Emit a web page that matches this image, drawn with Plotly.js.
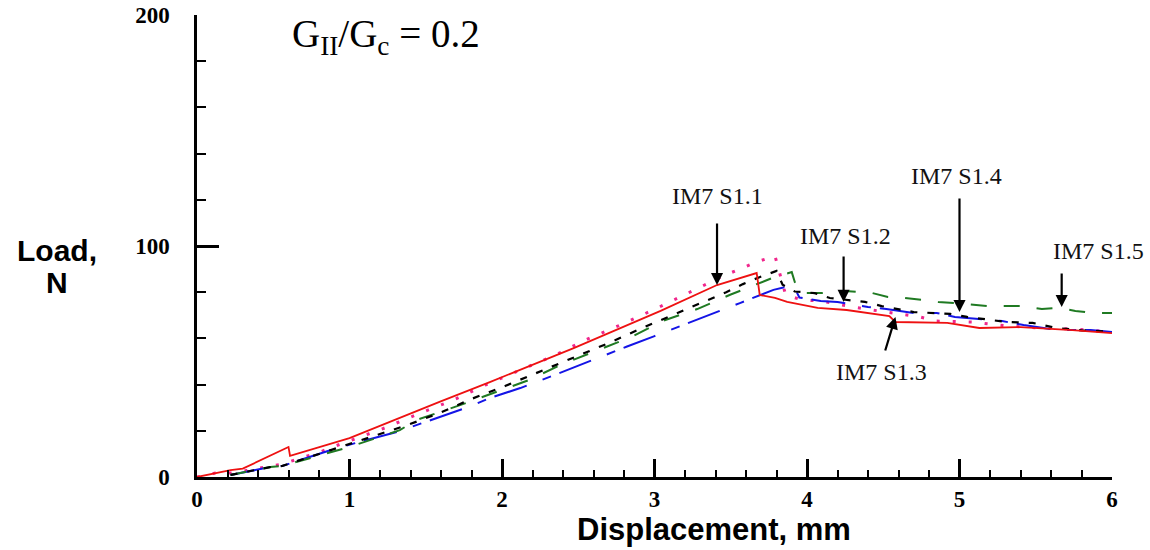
<!DOCTYPE html>
<html>
<head>
<meta charset="utf-8">
<script src="https://cdn.plot.ly/plotly-3.0.1.min.js"></script>
<style>html,body{margin:0;padding:0;background:#fff;}#chart{width:1150px;height:550px;}</style>
</head>
<body>
<div id="chart"></div>
<script>
// ---- data (displacement mm, load N) ----
const redX = [0, 0.22, 0.30, 0.60, 0.61, 1.00, 1.59, 1.92, 2.47, 3.04, 3.41, 3.67, 3.69, 3.79, 3.87, 3.97, 4.07, 4.26, 4.54, 4.58, 4.92, 5.13, 5.40, 5.74, 6.00];
const redY = [0, 3.0, 3.6, 13.0, 9.2, 16.8, 32.5, 41.1, 55.8, 71.9, 83.1, 88.3, 78.8, 77.5, 75.8, 74.5, 73.2, 72.3, 69.7, 67.1, 66.7, 64.5, 64.9, 63.6, 62.3];

const pinkX = [0, 0.12, 0.23, 0.56, 0.68, 0.79, 0.89, 1.01, 1.23, 1.45, 1.68, 1.89, 2.12, 2.35, 2.56, 2.79, 3.02, 3.23, 3.45, 3.67, 3.79, 3.86, 3.97, 4.09, 4.30, 4.52, 4.74, 4.85, 5.08, 5.31, 5.53, 5.74, 5.99];
const pinkY = [0, 1.7, 1.7, 5.6, 8.2, 10.4, 13.0, 16.0, 21.2, 27.3, 33.3, 39.8, 46.3, 52.8, 59.7, 66.2, 73.2, 80.1, 87.0, 93.1, 95.7, 78.8, 76.6, 76.2, 73.6, 71.4, 69.3, 67.5, 67.1, 65.4, 64.5, 64.1, 62.8];

const blackX = [0.22, 0.48, 0.56, 0.92, 1.38, 1.59, 1.80, 2.02, 2.24, 2.47, 2.70, 2.92, 3.13, 3.25, 3.36, 3.47, 3.58, 3.68, 3.80, 3.84, 3.92, 4.05, 4.15, 4.38, 4.49, 4.70, 4.94, 5.05, 5.31, 5.48, 5.64, 5.80, 6.00];
const blackY = [0.9, 4.3, 4.8, 12.6, 22.5, 27.7, 33.8, 39.4, 45.5, 51.9, 58.0, 64.5, 70.5, 74.0, 77.0, 80.0, 83.5, 86.3, 89.2, 83.2, 80.3, 79.6, 77.5, 75.8, 74.0, 71.4, 70.6, 69.3, 67.1, 66.7, 64.5, 63.5, 62.8];

const greenX = [0.22, 0.48, 0.56, 1.00, 1.33, 1.44, 1.72, 1.95, 2.17, 2.39, 2.62, 2.84, 3.06, 3.28, 3.50, 3.73, 3.79, 3.90, 3.92, 3.97, 4.09, 4.25, 4.43, 4.53, 4.64, 4.76, 4.86, 4.98, 5.09, 5.19, 5.42, 5.54, 5.65, 5.76, 5.87, 6.00];
const greenY = [0.9, 4.3, 4.8, 13.0, 20.3, 24.7, 31.0, 36.6, 41.8, 48.7, 54.8, 60.4, 67.7, 72.7, 79.0, 85.3, 86.6, 88.7, 84.4, 79.6, 79.6, 80.5, 79.6, 77.9, 77.5, 76.6, 75.8, 75.3, 74.5, 74.0, 74.0, 72.7, 73.2, 71.9, 71.0, 71.0];

const blueX = [0.22, 0.48, 0.56, 0.92, 1.31, 1.59, 1.78, 1.92, 2.12, 2.37, 2.56, 2.82, 3.00, 3.26, 3.45, 3.56, 3.70, 3.78, 3.91, 3.95, 4.09, 4.20, 4.40, 4.52, 4.70, 4.85, 4.97, 5.28, 5.42, 5.64, 5.86, 6.00];
const blueY = [0.9, 4.3, 4.8, 12.6, 19.5, 26.0, 30.3, 34.2, 38.5, 44.8, 49.8, 56.5, 61.0, 67.8, 72.5, 75.3, 78.8, 81.0, 83.0, 77.7, 76.2, 75.8, 73.6, 72.7, 71.0, 71.0, 69.3, 67.5, 65.8, 63.6, 63.6, 62.8];

const xTickVals = [0, 1, 2, 3, 4, 5, 6];
const yTickVals = [0, 100, 200];

// specimen labels and their arrows
const specimenLabels = ["IM7 S1.1", "IM7 S1.2", "IM7 S1.3", "IM7 S1.4", "IM7 S1.5"];
const labelX = [3.41, 4.25, 4.49, 4.98, 5.91];
const labelY = [121.6, 104.3, 45.5, 130.3, 97.8];
const arrowTailX = [3.41, 4.24, 4.51, 5.00, 5.67];
const arrowTailY = [110.4, 96.1, 54.1, 121.2, 88.7];
const arrowHeadX = [3.41, 4.24, 4.58, 5.00, 5.67];
const arrowHeadY = [83.1, 75.8, 69.3, 71.4, 73.6];

const traces = [
  {x: pinkX, y: pinkY, mode: 'lines', line: {color: '#f0268c', width: 3, dash: '3px,13px'}},
  {x: blueX, y: blueY, mode: 'lines', line: {color: '#1414e6', width: 2, dash: '34px,17px,9px,9px'}},
  {x: greenX, y: greenY, mode: 'lines', line: {color: '#1f7a22', width: 2, dash: '16px,17px'}},
  {x: blackX, y: blackY, mode: 'lines', line: {color: '#000000', width: 2.2, dash: '7px,10px'}},
  {x: redX, y: redY, mode: 'lines', line: {color: '#ee1111', width: 1.8}}
];

const serif = 'Liberation Serif, Times New Roman, serif';
const sans = 'Liberation Sans, Arial, sans-serif';

const annotations = [];
for (let i = 0; i < specimenLabels.length; i++) {
  annotations.push({x: labelX[i], y: labelY[i], xref: 'x', yref: 'y', text: specimenLabels[i], showarrow: false,
    xanchor: 'center', yanchor: 'middle', font: {family: serif, size: 24, color: '#111'}});
  annotations.push({x: arrowHeadX[i], y: arrowHeadY[i], ax: arrowTailX[i], ay: arrowTailY[i], axref: 'x', ayref: 'y',
    xref: 'x', yref: 'y', text: '', showarrow: true, arrowhead: 2, arrowsize: 1.1, arrowwidth: 2.2, arrowcolor: '#000', standoff: 0, startstandoff: 0});
}
annotations.push({x: 1.24, y: 190.5, xref: 'x', yref: 'y', showarrow: false, xanchor: 'center', yanchor: 'middle',
  text: 'G<sub>II</sub>/G<sub>c</sub> = 0.2', font: {family: serif, size: 39, color: '#000'}});
annotations.push({x: 3.39, y: -0.114, xref: 'x', yref: 'paper', showarrow: false, xanchor: 'center', yanchor: 'middle',
  text: 'Displacement, mm', font: {family: sans, size: 31, color: '#000', weight: 'bold'}});
annotations.push({x: -0.153, y: 0.491, xref: 'paper', yref: 'paper', showarrow: false, xanchor: 'center', yanchor: 'middle',
  text: 'Load,', font: {family: sans, size: 30, color: '#000', weight: 'bold'}});
annotations.push({x: -0.153, y: 0.420, xref: 'paper', yref: 'paper', showarrow: false, xanchor: 'center', yanchor: 'middle',
  text: 'N', font: {family: sans, size: 30, color: '#000', weight: 'bold'}});

const layout = {
  width: 1150, height: 550,
  margin: {l: 197, r: 38, t: 15, b: 73, pad: 0},
  showlegend: false,
  xaxis: {
    range: [0, 6], tickmode: 'array', tickvals: xTickVals, ticktext: xTickVals.map(String),
    showline: true, linecolor: '#000', linewidth: 2.5, showgrid: false, zeroline: false,
    ticks: 'inside', ticklen: 18, tickwidth: 2.5, tickcolor: '#000',
    tickfont: {family: serif, size: 23, color: '#000', weight: 'bold'},
    minor: {dtick: 0.2, ticks: 'inside', ticklen: 7, tickwidth: 2.2, tickcolor: '#000', showgrid: false}
  },
  yaxis: {
    range: [0, 200], tickmode: 'array', tickvals: yTickVals, ticktext: yTickVals.map(String),
    showline: true, linecolor: '#000', linewidth: 2.5, showgrid: false, zeroline: false,
    ticks: 'inside', ticklen: 22, tickwidth: 2.5, tickcolor: '#000', ticklabelstandoff: 20,
    tickfont: {family: serif, size: 23, color: '#000', weight: 'bold'},
    minor: {dtick: 20, ticks: 'inside', ticklen: 9, tickwidth: 2.2, tickcolor: '#000', showgrid: false}
  },
  annotations: annotations
};

Plotly.newPlot('chart', traces, layout, {displayModeBar: false});
</script>
</body>
</html>
